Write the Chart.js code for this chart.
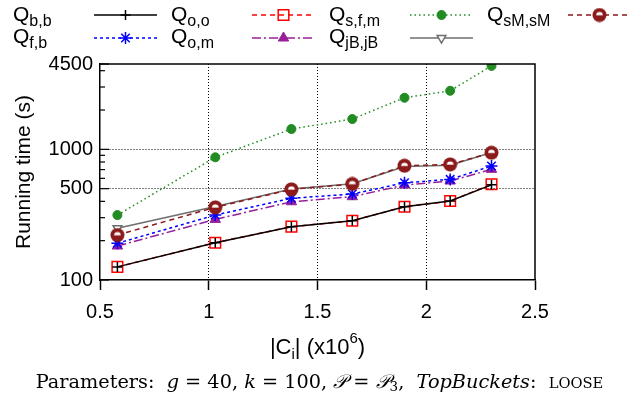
<!DOCTYPE html>
<html>
<head>
<meta charset="utf-8">
<script src="https://cdn.jsdelivr.net/npm/chart.js@4.4.1/dist/chart.umd.min.js"></script>
<style>
  html, body { margin: 0; padding: 0; background: #fff; }
  #wrap { width: 627px; height: 398px; }
</style>
</head>
<body>
<div id="wrap"><canvas id="grafico" width="627" height="398"></canvas></div>
<script>
// |Ci| em milhoes
const tamanhos = [0.58, 1.03, 1.38, 1.66, 1.9, 2.11, 2.3];

// tempos (s)
const qBB   = [126, 193, 256, 284, 364, 402, 535];
const qOO   = [126, 193, 256, 284, 364, 402, 540];
const qSFM  = [314, 869, 1430, 1706, 2483, 2808, 4350];
const qSMSM = [221, 360, 494, 543, 749, 767, 942];
const qFB   = [191, 314, 422, 455, 555, 589, 745];
const qOM   = [182, 291, 397, 434, 533, 572, 703];
const qJBJB = [249, 365, 497, 545, 740, 755, 945];

const xTicks = [0.5, 1, 1.5, 2, 2.5];
const yTicks = [100, 200, 300, 400, 500, 600, 700, 800, 900, 1000, 2000, 3000, 4000, 4500];
const yLabels = [100, 500, 1000, 4500];
const yGrade = [500, 1000];
const xGrade = [1, 1.5, 2];

const fonte = "'Liberation Sans', Arial, Helvetica, sans-serif";
const fonteSerif = "'DejaVu Serif', 'Liberation Serif', serif";

function marcadorSM() {
    const c = document.createElement('canvas');
    c.width = 15; c.height = 15;
    const g = c.getContext('2d');
    g.fillStyle = '#8b1a1a';
    g.beginPath(); g.arc(7.5, 7.5, 7, 0, 2 * Math.PI); g.fill();
    g.fillStyle = '#fff';
    g.beginPath(); g.arc(7.5, 7.8, 3.4, Math.PI, 2 * Math.PI); g.fill();
    return c;
}

function serie(sub, valores, cor, dash, estilo, raio, fundo, extra) {
    return Object.assign({
        label: 'Q' + sub,
        sub: sub,
        data: valores.map((v, i) => ({ x: tamanhos[i], y: v })),
        borderColor: cor,
        borderWidth: 1.5,
        borderDash: dash,
        pointStyle: estilo,
        pointRadius: raio,
        pointHoverRadius: raio,
        pointBorderColor: cor,
        pointBackgroundColor: fundo,
        pointBorderWidth: 1.5,
        tension: 0,
        fill: false
    }, extra || {});
}

const datasets = [
    serie('b,b', qBB, '#000000', [], 'cross', 5, 'rgba(0,0,0,0)'),
    serie('o,o', qOO, '#ff0000', [5, 4], 'rect', 7.5, 'rgba(0,0,0,0)'),
    serie('s,f,m', qSFM, '#228b22', [1.5, 3], 'circle', 4.5, '#228b22', { pointBorderWidth: 1 }),
    serie('sM,sM', qSMSM, '#8b1a1a', [5, 4], marcadorSM(), 7.5, '#8b1a1a'),
    serie('f,b', qFB, '#0000ff', [3, 3], 'star', 6, 'rgba(0,0,0,0)'),
    serie('o,m', qOM, '#991f99', [9, 3, 2, 3], 'triangle', 6, '#991f99', { pointBorderWidth: 1 }),
    serie('jB,jB', qJBJB, '#6e6e6e', [], 'triangle', 5, '#ffffff', { pointRotation: 180 })
];

// moldura, ticks internos do eixo y, titulo do eixo x, legenda e legenda inferior
const extras = {
    id: 'extras',
    afterDraw(chart) {
        const ctx = chart.ctx;
        const a = chart.chartArea;
        const ys = chart.scales.y;

        ctx.save();
        ctx.strokeStyle = '#000';
        ctx.lineWidth = 1.5;
        ctx.setLineDash([]);
        ctx.beginPath();
        ctx.moveTo(a.left, a.top); ctx.lineTo(a.right, a.top); ctx.lineTo(a.right, a.bottom);
        ctx.stroke();

        ctx.lineWidth = 1.2;
        yTicks.forEach(v => {
            const py = ys.getPixelForValue(v);
            const comp = yLabels.includes(v) ? 9 : 5;
            ctx.beginPath();
            ctx.moveTo(a.left, py); ctx.lineTo(a.left + comp, py);
            ctx.stroke();
        });

        // titulo eixo x: |Ci| (x10^6)
        const grande = '22px ' + fonte, pequeno = '15px ' + fonte;
        desenharPedacos(ctx, [
            { t: '|C', f: grande, dy: 0 },
            { t: 'i', f: pequeno, dy: 5 },
            { t: '| (x10', f: grande, dy: 0 },
            { t: '6', f: pequeno, dy: -11 },
            { t: ')', f: grande, dy: 0 }
        ], (a.left + a.right) / 2, 354, '#000');

        // legenda
        chart.data.datasets.forEach((ds, i) => {
            const col = i % 4, lin = Math.floor(i / 4);
            const x0 = 13 + col * 158;
            const yb = lin === 0 ? 21 : 43;
            const yl = lin === 0 ? 15 : 38;
            ctx.fillStyle = '#000';
            ctx.textBaseline = 'alphabetic';
            ctx.textAlign = 'left';
            ctx.font = '21px ' + fonte;
            ctx.fillText('Q', x0, yb);
            const wq = ctx.measureText('Q').width;
            ctx.font = '16px ' + fonte;
            ctx.fillText(ds.sub, x0 + wq, yb + 5);

            const xa = x0 + 81, xb = x0 + 144;
            ctx.strokeStyle = ds.borderColor;
            ctx.lineWidth = ds.borderWidth;
            ctx.setLineDash(ds.borderDash);
            ctx.beginPath();
            ctx.moveTo(xa, yl); ctx.lineTo(xb, yl);
            ctx.stroke();
            ctx.setLineDash([]);
            ctx.fillStyle = ds.pointBackgroundColor;
            ctx.strokeStyle = ds.pointBorderColor;
            ctx.lineWidth = ds.pointBorderWidth;
            Chart.helpers.drawPoint(ctx, {
                pointStyle: ds.pointStyle,
                radius: ds.pointRadius,
                rotation: ds.pointRotation || 0,
                borderWidth: ds.pointBorderWidth
            }, (xa + xb) / 2, yl);
        });

        // legenda inferior, ajustada a largura do original
        const montar = S => {
            const normal = S + 'px ' + fonteSerif;
            const italico = 'italic ' + S + 'px ' + fonteSerif;
            const sc = (S * 0.76).toFixed(1) + 'px ' + fonteSerif;
            return [
                { t: 'Parameters:  ', f: normal, dy: 0 },
                { t: 'g', f: italico, dy: 0 },
                { t: ' = 40, ', f: normal, dy: 0 },
                { t: 'k', f: italico, dy: 0 },
                { t: ' = 100, ', f: normal, dy: 0 },
                { t: '\u{1D4AB}', f: italico, dy: 0 },
                { t: ' = ', f: normal, dy: 0 },
                { t: '\u{1D4AB}', f: italico, dy: 0 },
                { t: '3', f: (S * 0.7).toFixed(1) + 'px ' + fonteSerif, dy: 3 },
                { t: ',  ', f: normal, dy: 0 },
                { t: 'TopBuckets', f: italico, dy: 0 },
                { t: ':  ', f: normal, dy: 0 },
                { t: 'LOOSE', f: sc, dy: 0 }
            ];
        };
        let S = 16;
        let total = larguraPedacos(ctx, montar(S));
        S = S * 569 / total;
        desenharPedacos(ctx, montar(S), 319.5, 388, '#000');
        ctx.restore();
    }
};

function larguraPedacos(ctx, pedacos) {
    let total = 0;
    pedacos.forEach(p => { ctx.font = p.f; p.w = ctx.measureText(p.t).width; total += p.w; });
    return total;
}

function desenharPedacos(ctx, pedacos, centroX, base, cor) {
    const total = larguraPedacos(ctx, pedacos);
    let x = centroX - total / 2;
    ctx.fillStyle = cor;
    ctx.textAlign = 'left';
    ctx.textBaseline = 'alphabetic';
    pedacos.forEach(p => {
        ctx.font = p.f;
        ctx.fillText(p.t, x, base + p.dy);
        x += p.w;
    });
}

new Chart(document.getElementById('grafico'), {
    type: 'line',
    data: { datasets: datasets },
    plugins: [extras],
    options: {
        responsive: false,
        animation: false,
        events: [],
        layout: { padding: { top: 64, right: 92, left: 0, bottom: 0 } },
        plugins: { legend: { display: false }, tooltip: { enabled: false } },
        scales: {
            x: {
                type: 'linear',
                min: 0.5,
                max: 2.5,
                afterBuildTicks: s => { s.ticks = xTicks.map(v => ({ value: v })); },
                afterFit: s => { s.height = 118; },
                ticks: {
                    font: { family: fonte, size: 20 },
                    color: '#000',
                    padding: 10,
                    maxRotation: 0,
                    autoSkip: false,
                    callback: v => String(v)
                },
                grid: {
                    color: c => (c.tick && xGrade.includes(c.tick.value)) ? '#000' : 'rgba(0,0,0,0)',
                    lineWidth: 1,
                    tickColor: '#000',
                    tickLength: 10,
                    tickWidth: 1.5
                },
                border: { display: true, color: '#000', width: 1.5, dash: [1, 2] }
            },
            y: {
                type: 'logarithmic',
                min: 100,
                max: 4500,
                afterBuildTicks: s => { s.ticks = yTicks.map(v => ({ value: v })); },
                afterFit: s => { s.width = 100; },
                ticks: {
                    font: { family: fonte, size: 20 },
                    color: '#000',
                    padding: 7,
                    autoSkip: false,
                    callback: v => yLabels.includes(v) ? String(v) : ''
                },
                grid: {
                    color: c => (c.tick && yGrade.includes(c.tick.value)) ? '#000' : 'rgba(0,0,0,0)',
                    lineWidth: 1,
                    drawTicks: false
                },
                border: { display: true, color: '#000', width: 1.5, dash: [1, 2] },
                title: {
                    display: true,
                    text: 'Running time (s)',
                    color: '#000',
                    font: { family: fonte, size: 21 },
                    padding: { top: 12, bottom: 0 }
                }
            }
        }
    }
});
</script>
</body>
</html>
